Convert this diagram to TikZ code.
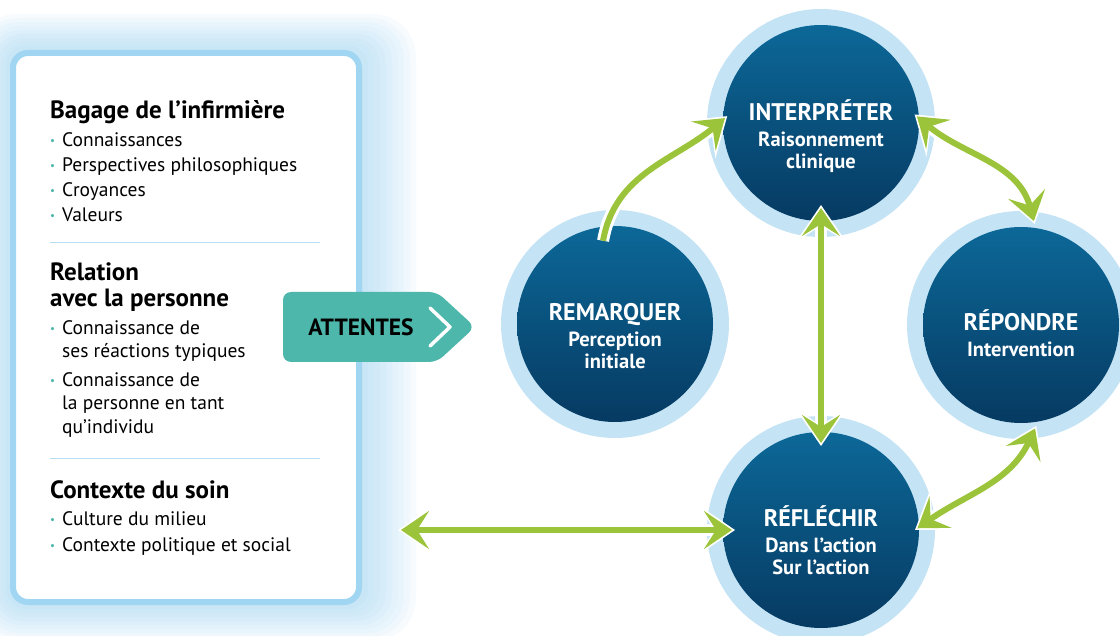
\documentclass[tikz,border=0pt]{standalone}
\usepackage{fontspec}
\setmainfont{PT Sans}
\usetikzlibrary{arrows.meta}

\definecolor{arrgreen}{RGB}{155,196,58}
\definecolor{ctop}{RGB}{12,104,152}
\definecolor{cbot}{RGB}{6,58,98}
\definecolor{ringblue}{RGB}{196,228,246}
\definecolor{boxblue}{RGB}{160,214,242}
\definecolor{sepblue}{RGB}{185,223,242}
\definecolor{glow}{RGB}{150,210,242}
\definecolor{attteal}{RGB}{76,183,170}

\tikzset{gtip/.tip={Stealth[length=28pt,width=38pt,inset=12pt]},
  wtip/.tip={Stealth[length=36pt,width=49pt,inset=15pt]}}

\newcommand{\bul}{\makebox[12pt][l]{\raisebox{2pt}{\textcolor{attteal}{\fontsize{11}{11}\selectfont\textbullet}}}}

\begin{document}
\begin{tikzpicture}[x=1pt,y=-1pt,
  circ/.style={circle, minimum size=196pt, inner sep=0, outer sep=0, top color=ctop, bottom color=cbot},
  ring/.style={circle, minimum size=228pt, inner sep=0, fill=ringblue},
  ctext/.style={text=white, align=center, inner sep=0, font=\bfseries\fontsize{20.5}{22}\selectfont},
  arr/.style={draw=arrgreen, line width=6pt, {gtip}-{gtip}, shorten <=3pt, shorten >=3pt,
    preaction={draw=white, line width=12pt, {wtip}-{wtip}, shorten <=0pt, shorten >=0pt}},
  arr1/.style={draw=arrgreen, line width=6pt, -{gtip}, shorten >=3pt,
    preaction={draw=white, line width=12pt, -{wtip}, shorten >=0pt}},
  box/.style={draw=boxblue, line width=6pt, fill=white, rounded corners=15pt, minimum width=346pt, minimum height=549pt},
  head/.style={anchor=north west, inner sep=0, align=left, font=\bfseries\fontsize{25}{26}\selectfont},
  items/.style={anchor=north west, inner sep=0, align=left, font=\fontsize{19.5}{25}\selectfont},
  sep/.style={draw=sepblue, line width=1pt}]
	\useasboundingbox[fill=white] (0,0) rectangle (1120,636);
	% glow round the box
	\foreach \g in {0,...,9}
		\fill[glow, opacity=.07, rounded corners=16pt+3pt*\g] (10-4*\g,50-4*\g) rectangle (362+6*\g,605+4*\g);
	\node[box] (box) at (186,327.5) {};
	\draw[sep] (50,243) -- (320,243);
	\draw[sep] (50,458) -- (320,458);
	\node[head] (bag) at (50,100) {Bagage de l’infirmière};
	\node[items] (bagl) at (50,132) {\bul Connaissances\\ \bul Perspectives philosophiques\\ \bul Croyances\\ \bul Valeurs};
	\node[head] (rel) at (50,263) {Relation\\ avec la personne};
	\node[items, font=\fontsize{19.5}{23.5}\selectfont] (rell) at (50,320) {\bul Connaissance de\\ \hspace*{12pt}ses réactions typiques\\[5pt] \bul Connaissance de\\ \hspace*{12pt}la personne en tant\\ \hspace*{12pt}qu’individu};
	\node[head] (ctx) at (50,480) {Contexte du soin};
	\node[items, font=\fontsize{19.5}{26}\selectfont] (ctxl) at (50,511) {\bul Culture du milieu\\ \bul Contexte politique et social};
	% attentes
	\fill[attteal, rounded corners=8pt] (283,292) -- (437,292) -- (475,327) -- (437,362) -- (283,362) -- cycle;
	\node[font=\bfseries\fontsize{23.5}{24}\selectfont] (att) at (361,327) {ATTENTES};
	\draw[white, line width=3.5pt, line cap=round, line join=round] (430,308) -- (450,327) -- (430,346);
	% circles
	\node[ring] at (821,123) {};
	\node[ring] at (615,324) {};
	\node[ring] at (1021,325) {};
	\node[ring] at (821,530) {};
	\node[circ] (int) at (821,123) {};
	\node[circ] (rem) at (615,324) {};
	\node[circ] (rep) at (1021,325) {};
	\node[circ] (ref) at (821,530) {};
	\node[ctext] (intt) at ([yshift=-13pt]int.center) {{\fontsize{24}{24}\selectfont INTERPRÉTER}\\[4pt] Raisonnement\\ clinique};
	\node[ctext] (remt) at ([yshift=-12pt]rem.center) {{\fontsize{24}{24}\selectfont REMARQUER}\\[4pt] Perception\\ initiale};
	\node[ctext] (rept) at ([yshift=-8pt]rep.center) {{\fontsize{24}{24}\selectfont RÉPONDRE}\\[4pt] Intervention};
	\node[ctext] (reft) at ([yshift=-10pt]ref.center) {{\fontsize{24}{24}\selectfont RÉFLÉCHIR}\\[4pt] Dans l’action\\ Sur l’action};
	% arrows
	\coordinate (lft) at (398,530);
	\draw[arr1] ([yshift=-14pt]rem.97) to[out=80,in=-140] ([xshift=4pt]int.176);
	\draw[arr] ([xshift=-4pt]int.5) to[out=-40,in=105] ([yshift=4pt]rep.82);
	\draw[arr] ([yshift=16pt]int.south) -- ([yshift=-14pt]ref.north);
	\draw[arr] ([yshift=-4pt]rep.279) to[out=-115,in=35] ([xshift=-4pt]ref.0);
	\draw[arr] (lft) -- ([xshift=12pt]ref.west);
\end{tikzpicture}
\end{document}
